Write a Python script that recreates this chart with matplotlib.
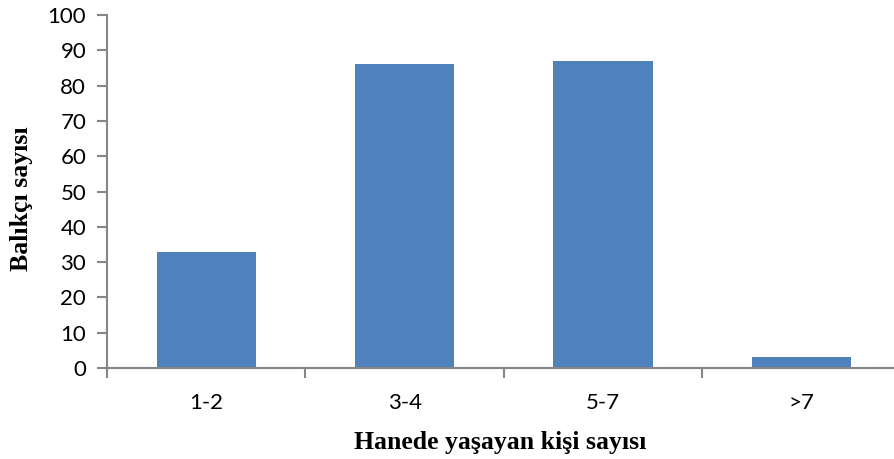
import matplotlib.pyplot as plt

# Veriler
kategoriler = ["1-2", "3-4", "5-7", ">7"]
balikci_sayisi = [33, 86, 87, 3]
y_ticks = list(range(0, 101, 10))

fig = plt.figure(figsize=(8.95, 4.59), dpi=100)
ax = fig.add_axes([107 / 895, 91 / 459, 793.6 / 895, 353 / 459])

x = list(range(len(kategoriler)))
ax.bar(x, balikci_sayisi, width=0.5, color="#4F81BD", zorder=2)

ax.set_xlim(-0.5, len(kategoriler) - 0.5)
ax.set_ylim(0, 100)
ax.set_yticks(y_ticks)
ax.set_xticks(x)
ax.set_xticklabels(kategoriler)
# kategori sınırlarında tik işaretleri
ax.set_xticks([i - 0.5 for i in range(len(kategoriler) + 1)], minor=True)
ax.tick_params(axis="x", which="major", length=0, pad=18)
ax.tick_params(axis="x", which="minor", length=7, width=1.5, color="#868686", direction="out")
ax.tick_params(axis="y", length=7, width=1.5, color="#868686", pad=8)

for lbl in ax.get_xticklabels() + ax.get_yticklabels():
    lbl.set_fontfamily("Lato")
    lbl.set_fontsize(16)

for s in ["top", "right"]:
    ax.spines[s].set_visible(False)
for s in ["left", "bottom"]:
    ax.spines[s].set_color("#868686")
    ax.spines[s].set_linewidth(1.5)

fig.text(500 / 895, 17 / 459, "Hanede yaşayan kişi sayısı", ha="center", va="center",
         fontfamily="Liberation Serif", fontweight="bold", fontsize=18.5)
fig.text(22 / 895, 1 - 199 / 459, "Balıkçı sayısı", ha="center", va="center", rotation=90,
         fontfamily="Liberation Serif", fontweight="bold", fontsize=18.5)

fig.savefig("out.png", dpi=100)
